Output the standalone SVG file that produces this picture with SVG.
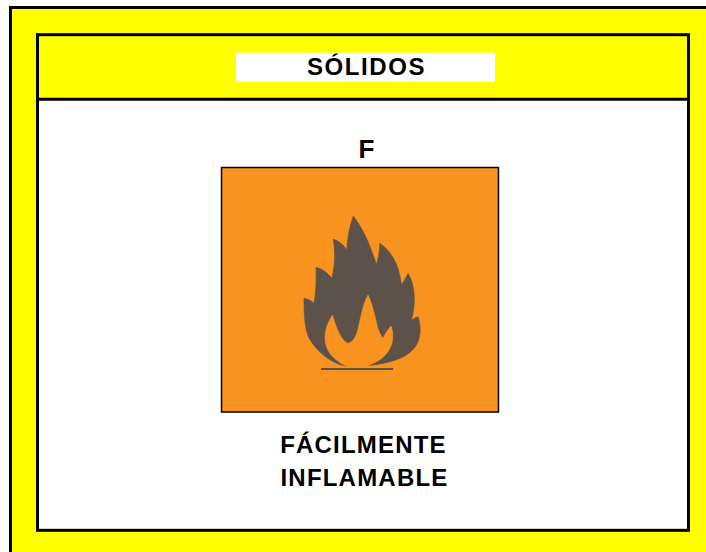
<svg xmlns="http://www.w3.org/2000/svg" width="706" height="552" viewBox="0 0 706 552">
<style>
.frame{fill:none;stroke:#000;stroke-width:3}
.t{font-family:"Liberation Sans",Arial,sans-serif;font-weight:bold;font-size:24px;fill:#000;text-anchor:middle;letter-spacing:1.2px}
.flame{fill:#5c5249;stroke:#5c5249;stroke-width:0.6;stroke-linejoin:round}
.hole{fill:#f7931e;stroke:#f7931e;stroke-width:0.6;stroke-linejoin:round}
</style>
<rect width="706" height="552" fill="#fff"/>
<g id="outer-panel">
<rect x="10.5" y="7.5" width="710" height="560" fill="#ffff00" stroke="#000" stroke-width="3"/>
</g>
<g id="inner-panel">
<rect x="37.5" y="99" width="651" height="431.3" fill="#fff"/>
<rect x="37.5" y="34.7" width="651" height="64.3" fill="#ffff00"/>
<rect class="frame" x="37.5" y="34.7" width="651" height="495.6"/>
<line x1="37.5" y1="99.2" x2="688.5" y2="99.2" stroke="#000" stroke-width="3"/>
</g>
<g id="header">
<rect x="236" y="52.7" width="259" height="29" fill="#fff"/>
<text class="t" x="366.5" y="74.7" style="letter-spacing:1.6px">SÓLIDOS</text>
</g>
<g id="symbol">
<text class="t" x="366.5" y="158.3" style="letter-spacing:0;font-size:26px">F</text>
<rect x="221.5" y="167.5" width="277" height="244.5" fill="#f7931e" stroke="#000" stroke-width="1.5"/>
<path class="flame" d="M349,366.5 C342,365.5 337,364 331,360.5 C322,355 314,347 309,338 C305,329 304,318 304,298.3 C308,299 311,300.5 314,303.3 C316,292 316.5,280 316,267.3 C321,268.5 327,272 331.7,278.3 C335,266 335.5,252 333.3,239.3 C338,240.5 343,244 346.7,250 C347.5,238 349.5,226 353.3,216 C361,226 368,240 372,252 C374,257 375.5,261 376.3,265 C378.5,258 379.8,250 379.7,243.3 C390,250 397,262 399.5,274 C400.5,278 401,281.5 401.3,285 C404,281 406.5,277 408,273.3 C414,283 415,296 414,306 C413.5,312 412.5,316 411.3,320 C414,318.5 416,317.3 418,316.7 C421,326 421,336 417,344 C412,353 402,358.5 391,361.5 C382,364 372,365.5 363,366 Z"/>
<path class="hole" d="M349,367.5 C344,365.5 337,361 332,356 C327,350 325,344 325,337.5 C325,330 328,322 332.5,315 C334.5,322 337.5,331 341,336.5 C343.5,340.5 346,343 348,343.3 C352,342.5 355.5,338 357.5,331 C360,322 362,306 368,295 C372,303 375,316 377.5,327 C379,332 381,336 383,338 C385.5,333 388.5,329 391,326 C393,331 393.5,337 392,343 C390,350 386,355 381,359 C375,363 369,365.5 363,367.5 Z"/>
<rect x="321" y="368" width="72" height="2" fill="#5c5249"/>
</g>
<g id="label">
<text class="t" x="363.5" y="452.7">FÁCILMENTE</text>
<text class="t" x="364.5" y="486">INFLAMABLE</text>
</g>
</svg>
